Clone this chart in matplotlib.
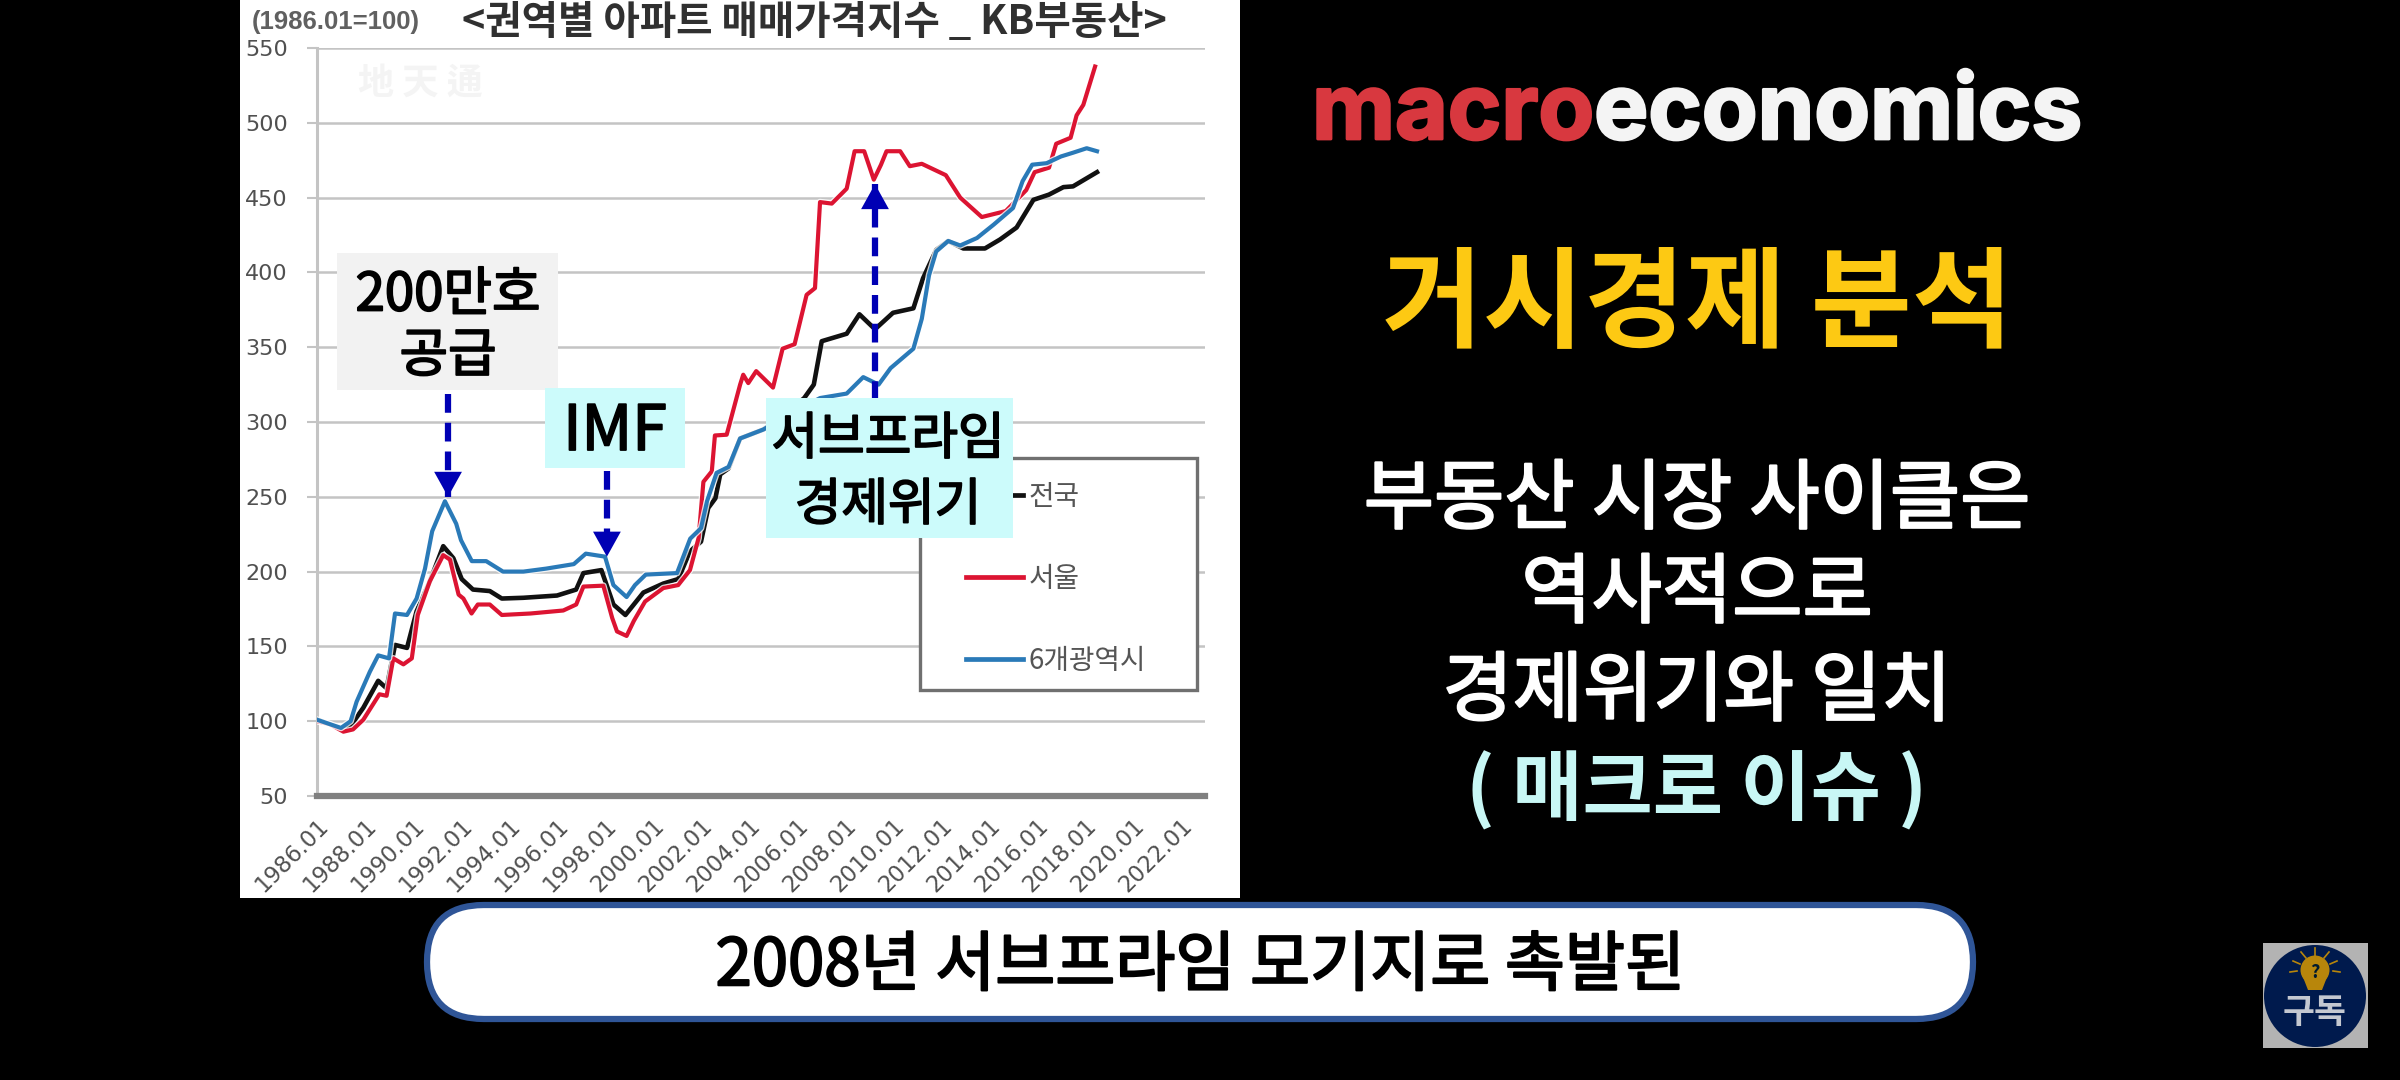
import matplotlib
matplotlib.use('Agg')
import matplotlib.pyplot as plt
import matplotlib.patheffects as pe
from matplotlib.patches import Rectangle, FancyBboxPatch, Circle, Polygon

plt.rcParams['font.family'] = ['Noto Sans CJK KR', 'DejaVu Sans']

# values
nat_x = [1986, 1986.54, 1987, 1987.45, 1987.93, 1988.55, 1988.9, 1989.25, 1989.75, 1990.15, 1990.7, 1991.26,
         1991.68, 1992.03, 1992.5, 1993.2, 1993.7, 1994.6, 1996, 1996.8, 1997.1, 1997.85, 1998.35, 1998.85,
         1999.6, 2000.43, 2001.05, 2001.54, 2002, 2002.3, 2002.6, 2002.8, 2003.15, 2003.63, 2004.6, 2005.5,
         2006.3, 2006.7, 2007.03, 2008.07, 2008.6, 2009.25, 2010, 2010.85, 2011.25, 2011.8, 2012.3, 2012.93,
         2013.83, 2014.46, 2015.15, 2015.85, 2016.5, 2017.1, 2017.5, 2018.5]
nat_y = [101, 98, 94.5, 98, 109, 127, 122, 151, 149, 173.5, 193.5, 217,
         209, 195, 188, 187, 182, 182.5, 184, 188, 199, 201, 178, 171,
         186, 192, 195, 213.6, 220, 242.5, 249, 265, 269, 289, 295, 305,
         316, 325, 354, 359, 372, 362, 373, 376, 396, 415, 421, 416,
         416, 422, 430, 448.5, 452, 457, 457.5, 467]

seoul_x = [1986, 1986.54, 1987.1, 1987.5, 1987.93, 1988.6, 1988.9, 1989.18, 1989.6, 1989.95, 1990.2, 1990.7, 1991.26,
           1991.54, 1991.9, 1992.1, 1992.44, 1992.7, 1993.2, 1993.7, 1994.9, 1996.26, 1996.8, 1997.1, 1997.93,
           1998.3, 1998.5, 1998.9, 1999.2, 1999.67, 2000.43, 2001.05, 2001.54, 2001.9, 2002.1, 2002.45, 2002.58,
           2003.07, 2003.63, 2003.76, 2003.97, 2004.3, 2005, 2005.4, 2005.9, 2006.4, 2006.75, 2006.96, 2007.45,
           2008.07, 2008.4, 2008.8, 2009.2, 2009.5, 2009.73, 2010.3, 2010.7, 2011.2, 2012.2, 2012.8, 2013.7,
           2014.7, 2015.55, 2015.9, 2016.5, 2016.8, 2017.4, 2017.65, 2017.93, 2018.42]
seoul_y = [100, 98, 93, 94.5, 101, 118, 117, 142, 138, 142, 171, 193.5, 211,
           208, 184.6, 182, 172, 178, 178, 171, 172, 174, 178, 190, 190.6,
           169, 160, 157, 167, 180, 189, 191, 201, 222.5, 260, 267, 291,
           291.5, 325, 331.6, 326, 334, 323, 349, 352, 385, 389.5, 447, 446,
           456, 481, 481, 462, 472, 481, 481, 471, 472.6, 465, 450, 437,
           441, 455, 467, 470, 486, 490, 505, 512, 537.6]

metro_x = [1986, 1986.54, 1987, 1987.4, 1987.65, 1988.2, 1988.55, 1989, 1989.25, 1989.75, 1990.15, 1990.5, 1990.8,
           1991.33, 1991.8, 1992, 1992.45, 1993.05, 1993.75, 1994.6, 1995.55, 1996.7, 1997.2, 1998, 1998.35,
           1998.9, 1999.25, 1999.7, 2001, 2001.55, 2002, 2002.25, 2002.65, 2003.15, 2003.63, 2004.6, 2005.8,
           2006.96, 2008.07, 2008.76, 2009.4, 2009.9, 2010.85, 2011.2, 2011.5, 2011.8, 2012.3, 2012.8, 2013.5,
           2014.2, 2015, 2015.4, 2015.8, 2016.4, 2017, 2017.5, 2018.07, 2018.5]
metro_y = [101, 98, 95.5, 100, 113, 133, 144, 142, 172, 171, 182, 202, 227,
           247, 232, 221, 207, 207, 200, 200, 202, 205, 212, 210, 191,
           183, 191, 198, 199, 222, 229, 247, 266, 270, 289, 295, 306,
           316, 319, 330, 325, 336, 349, 369, 398, 414, 421, 418, 423,
           432, 443, 461, 472, 473, 477.5, 480, 483, 481]

tick_years = list(range(1986, 2023, 2))
y_ticks = [50, 100, 150, 200, 250, 300, 350, 400, 450, 500, 550]
series_names = ['전국', '서울', '6개광역시']

# (year, start value, tip value)
arrow_x = [1991.46, 1998.08, 2009.25]
arrow_from = [319, 267, 315]
arrow_to = [250, 210, 459]

W, H = 2400, 1080
fig = plt.figure(figsize=(24, 10.8), dpi=100, facecolor='black')


def heavy(color, w=1.3):
    # the CJK font has no medium weight here, so thicken the regular one
    return [pe.withStroke(linewidth=w, foreground=color)]


# background white panel
bg = fig.add_axes([0, 0, 1, 1], zorder=-1)
bg.set_xlim(0, W)
bg.set_ylim(H, 0)
bg.axis('off')
bg.add_patch(Rectangle((240, 0), 1000, 898, fc='white', ec='none'))

# chart
ax = fig.add_axes([317 / W, 1 - 796 / H, (1205 - 317) / W, (796 - 48) / H], zorder=1)
ax.patch.set_alpha(0)
halo = [pe.withStroke(linewidth=4.8, foreground='white', alpha=0.8)]
l1, = ax.plot(nat_x, nat_y, color='#111111', lw=3.3, label=series_names[0], zorder=3, solid_joinstyle='round')
l2, = ax.plot(seoul_x, seoul_y, color='#dc1432', lw=3, label=series_names[1], zorder=3.1, path_effects=halo, solid_joinstyle='round')
l3, = ax.plot(metro_x, metro_y, color='#2a7ab8', lw=3, label=series_names[2], zorder=3.2, path_effects=halo, solid_joinstyle='round')
ax.set_xlim(1986, 2023)
ax.set_ylim(50, 550)
ax.set_yticks(y_ticks)
ax.set_xticks(tick_years)
ax.set_xticklabels([f'{y}.01' for y in tick_years], rotation=45, ha='right', va='top',
                   rotation_mode='anchor', family='DejaVu Sans', fontsize=16.3, color='#505050')
ax.tick_params(axis='x', length=0, pad=13)
ax.tick_params(axis='y', length=7, width=1.5, color='#c4c4c4', pad=14, labelcolor='#505050')
for t in ax.get_yticklabels():
    t.set_family('DejaVu Sans')
    t.set_fontsize(16)
ax.grid(axis='y', color='#c4c4c4', lw=1.8)
ax.set_axisbelow(True)
for s in ['top', 'right']:
    ax.spines[s].set_visible(False)
ax.spines['left'].set_color('#c4c4c4')
ax.spines['left'].set_linewidth(2.2)
ax.spines['bottom'].set_color('#808080')
ax.spines['bottom'].set_linewidth(4.5)

# dashed arrows
ax.vlines(arrow_x, arrow_from, arrow_to, color='#0000b4', lw=4.5, linestyles=(0, (3, 1.6)), zorder=4)
for x, a, b in zip(arrow_x, arrow_from, arrow_to):
    up = b > a
    ax.annotate('', xy=(x, b), xytext=(x, b - 13 if up else b + 13), zorder=4.5,
                arrowprops=dict(arrowstyle='-|>,head_width=0.5,head_length=0.9', color='#0000b4', lw=0,
                                shrinkA=0, shrinkB=0, mutation_scale=20))

# overlay drawn in picture pixels
top = fig.add_axes([0, 0, 1, 1], zorder=5)
top.set_xlim(0, W)
top.set_ylim(H, 0)
top.axis('off')
top.patch.set_alpha(0)

# legend box sits under the overlay boxes
ax.add_patch(Rectangle((920, 458), 277, 232, transform=top.transData, fc='white', ec='#707070', lw=2.4,
                       zorder=6, clip_on=False))
leg = ax.legend(handles=[l1, l2, l3], loc='upper left', bbox_to_anchor=(966, 482), bbox_transform=top.transData,
                frameon=False, borderpad=0, borderaxespad=0, handlelength=2.05, handletextpad=0.2,
                labelspacing=1.87, fontsize=20, labelcolor='#555555')
leg.set_zorder(7)
for h in leg.get_lines():
    h.set_path_effects([])
    h.set_linewidth(3.4)

top.text(252, 22, '(1986.01=100)', family='Liberation Sans', weight='bold', fontsize=18.5, color='#606060', va='center')
top.text(462, 22, '<권역별 아파트 매매가격지수 _ KB부동산>', fontsize=28.5, weight='bold', color='#303030', va='center')
top.text(420, 83, '地 天 通', fontsize=26, weight='bold', color='#f4f4f4', ha='center', va='center')

# callout boxes
top.add_patch(Rectangle((337, 253), 221, 137, fc='#f2f2f2', ec='none'))
top.text(448, 295, '200만호', fontsize=38, color='black', ha='center', va='center', path_effects=heavy('black'))
top.text(448, 356, '공급', fontsize=38, color='black', ha='center', va='center', path_effects=heavy('black'))
top.add_patch(Rectangle((545, 388), 140, 80, fc='#ccfbfb', ec='none'))
top.text(615, 432, 'IMF', fontsize=45, color='black', ha='center', va='center', path_effects=heavy('black'))
top.add_patch(Rectangle((766, 398), 247, 140, fc='#ccfbfb', ec='none'))
top.text(888, 440, '서브프라임', fontsize=36.5, color='black', ha='center', va='center', path_effects=heavy('black'))
top.text(888, 506, '경제위기', fontsize=36.5, color='black', ha='center', va='center', path_effects=heavy('black'))

# right side
t1 = top.text(1312, 115, 'macro', family='Inter', weight='bold', fontsize=65.5, color='#d8383f', va='center',
              path_effects=heavy('#d8383f', 2))
fig.canvas.draw()
ext = t1.get_window_extent()
top.text(ext.x1, 115, 'economics', family='Inter', weight='bold', fontsize=65.5, color='#f4f4f4', va='center',
         path_effects=heavy('#f4f4f4', 2))
top.text(1697, 307, '거시경제 분석', fontsize=79, weight='bold', color='#fdc913', ha='center', va='center')
top.text(1697, 501, '부동산 시장 사이클은', fontsize=55, color='white', ha='center', va='center', path_effects=heavy('white', 1.6))
top.text(1697, 595, '역사적으로', fontsize=55, color='white', ha='center', va='center', path_effects=heavy('white', 1.6))
top.text(1697, 693, '경제위기와 일치', fontsize=55, color='white', ha='center', va='center', path_effects=heavy('white', 1.6))
top.text(1697, 791, '( 매크로 이슈 )', fontsize=55, weight='bold', color='#c8f7f5', ha='center', va='center')

# bottom caption
cap = FancyBboxPatch((427, 905), 1546, 114, boxstyle='round,pad=0,rounding_size=57',
                     fc='white', ec='#2f5597', lw=4.5)
top.add_patch(cap)
top.text(1200, 967, '2008년 서브프라임 모기지로 촉발된', fontsize=47, color='black', ha='center', va='center', path_effects=heavy('black', 1.5))

# subscribe badge
top.add_patch(Rectangle((2263, 943), 105, 105, fc='#b3b3b3', ec='none'))
top.add_patch(Circle((2315, 996), 51, fc='#001a4d', ec='none'))
top.add_patch(Circle((2315, 970), 14.5, fc='#b8860b', ec='none'))
top.add_patch(Polygon([(2301, 972), (2329, 972), (2322, 990), (2308, 990)], fc='#b8860b', ec='none'))
for x0, y0, x1, y1 in [(2315, 948, 2315, 956), (2301, 952, 2306, 958), (2329, 952, 2324, 958),
                       (2293, 961, 2300, 964), (2337, 961, 2330, 964), (2290, 972, 2297, 971), (2340, 972, 2333, 971)]:
    top.plot([x0, x1], [y0, y1], color='#b8860b', lw=1.2)
top.text(2315, 973, '?', fontsize=13, weight='bold', color='#001a2d', ha='center', va='center')
top.text(2315, 1013, '구독', fontsize=25, weight='bold', color='#c4c8d0', ha='center', va='center')

fig.savefig('out.png', dpi=100, facecolor='black')
